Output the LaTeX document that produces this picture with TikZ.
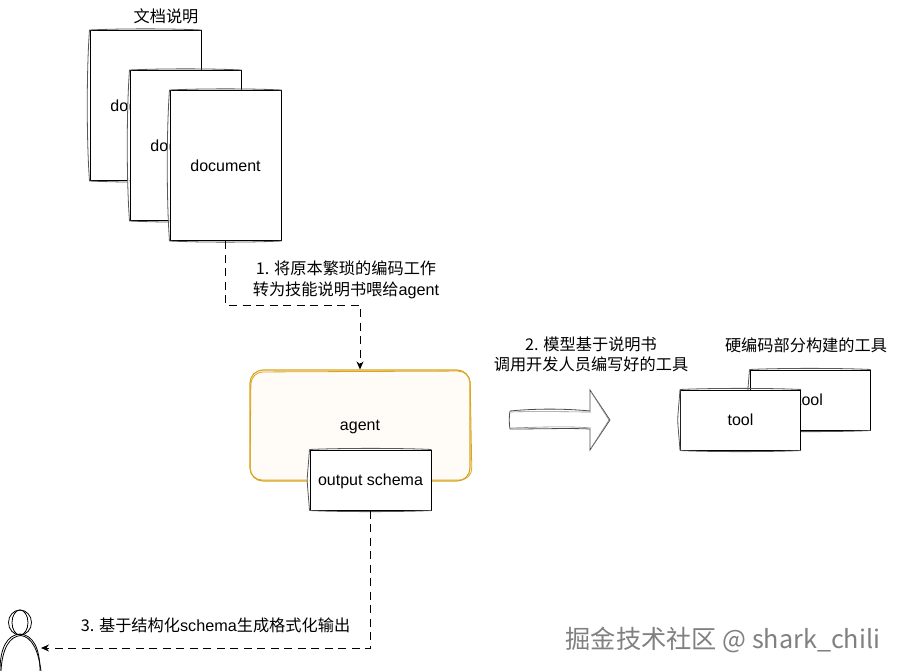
\documentclass[tikz,border=0pt]{standalone}
\usepackage{fontspec}
\setmainfont{Liberation Sans}
\newfontfamily\cjk{Noto Sans CJK SC}
\usetikzlibrary{calc,arrows.meta}
\definecolor{agentline}{HTML}{D9A520}
\definecolor{agentfill}{HTML}{FFFCF7}
\definecolor{agenthatch}{HTML}{F9E6CE}
\tikzset{
  lbl/.style={inner sep=0pt,align=center,font=\fontsize{16.2}{20.5}\selectfont},
  box/.style={draw=black,fill=white,line width=1pt,inner sep=0pt,font=\fontsize{16}{19}\selectfont},
  docbox/.style={box,minimum width=111pt,minimum height=150pt},
  toolbox/.style={box,minimum width=120pt,minimum height=60pt},
  rough/.style={line width=.8pt,draw=black!65},
  flow/.style={draw=black,line width=1pt,dash pattern=on 8pt off 5.5pt,-{Stealth[length=8pt,width=7pt]}},
  sketchfig/.style={draw=black,line width=.8pt},
}
\newcommand{\roughbox}[1]{%
  \fill[white] (#1.north west) .. controls +(-3,40) and +(-3,-40) .. (#1.south west) -- cycle;
  \draw[rough] (#1.north west) .. controls +(-3,40) and +(-3,-40) .. (#1.south west);
  \draw[rough] (#1.north west) .. controls +(30,-1.5) and +(-30,-1.5) .. (#1.north east);
  \draw[rough] (#1.south west) .. controls +(30,1.5) and +(-30,1.5) .. (#1.south east);
}
\begin{document}
\begin{tikzpicture}[x=1pt,y=-1pt]
\useasboundingbox (0,0) rectangle (901,671);
\fill[white] (0,0) rectangle (901,671);

% documents
\node[lbl] (doctitle) at (166,16) {\cjk 文档说明};
\node[docbox] (doca) at (145.5,105.5) {document};
\roughbox{doca}
\node[docbox] (docb) at (185.5,145.5) {document};
\roughbox{docb}
\node[docbox] (docc) at (225.5,165.5) {document};
\roughbox{docc}

% agent
\node[draw=agentline,line width=1.1pt,rounded corners=13pt,minimum width=220pt,minimum height=111pt,inner sep=0pt,
      fill=agentfill,
      path picture={\foreach \k in {0,5,...,345}{\draw[agenthatch,line width=1.3pt] (250+\k-120,481) -- (250+\k,361);}}] (agent) at (360,425.5) {};
\node[font=\fontsize{16}{19}\selectfont,inner sep=0pt,text depth=0pt] (agentlabel) at (360,425.5) {agent};
\draw[agentline,line width=.8pt,rounded corners=12pt] (251,372) -- (470,371) -- (472,480) -- (250,480) -- cycle;
\node[box,minimum width=121pt,minimum height=60pt,text depth=0pt] (schema) at (370.5,480) {output schema};
\roughbox{schema}

% tools
\node[toolbox] (toolb) at (810,400) {tool};
\roughbox{toolb}
\node[toolbox] (toola) at (740.5,420) {tool};
\roughbox{toola}

% labels
\node[lbl] (stepa) at (346,280) {{\cjk 1. 将原本繁琐的编码工作}\\{\cjk 转为技能说明书喂给}agent};
\node[lbl] (stepb) at (591,354.5) {{\cjk 2. 模型基于说明书}\\{\cjk 调用开发人员编写好的工具}};
\node[lbl] (toolstitle) at (806,345) {\cjk 硬编码部分构建的工具};
\node[lbl] (stepc) at (215.5,625) {{\cjk 3. 基于结构化}schema{\cjk 生成格式化输出}};

% block arrow
\draw[fill=white,draw=black!70,line width=.8pt] (510,411) .. controls (540,408) and (570,409) .. (590,411) -- (590,390) -- (610,420) -- (590,450) -- (590,429) .. controls (570,428) and (540,429) .. (510,429) .. controls (509,424) and (509,416) .. (510,411);
\draw[draw=black!45,line width=.6pt] (511,412) .. controls (540,411) and (570,412) .. (591,412) (591,392) -- (609,420) -- (591,448) (591,428) .. controls (570,426) and (540,427) .. (511,428);

% person
\draw[sketchfig] (20,622.5) ellipse (11.5 and 12.5);
\draw[sketchfig] (20,622.5) ellipse (8 and 12.5);
\draw[sketchfig] (0,671) .. controls (0,648) and (7,635) .. (20,634) .. controls (33,635) and (40,648) .. (40,671);
\draw[sketchfig] (1,671) .. controls (2,650) and (9,636) .. (21,635.5) .. controls (31,637) and (38,648) .. (41,671);
\coordinate (person) at (41,648);

% connectors
\coordinate (benda) at (225.5,305);
\coordinate (bendb) at (360,305);
\coordinate (bendc) at (370.5,648);
\draw[flow] (docc.south) -- (benda) -- (bendb) -- (agent.north);
\draw[flow] (schema.south) -- (bendc) -- (person);

% watermark
\node[inner sep=0pt,text=black!50,font=\cjk\fontsize{25.2}{30}\selectfont] (mark) at (723,639.5) {掘金技术社区 @ shark\_chili};
\end{tikzpicture}
\end{document}
